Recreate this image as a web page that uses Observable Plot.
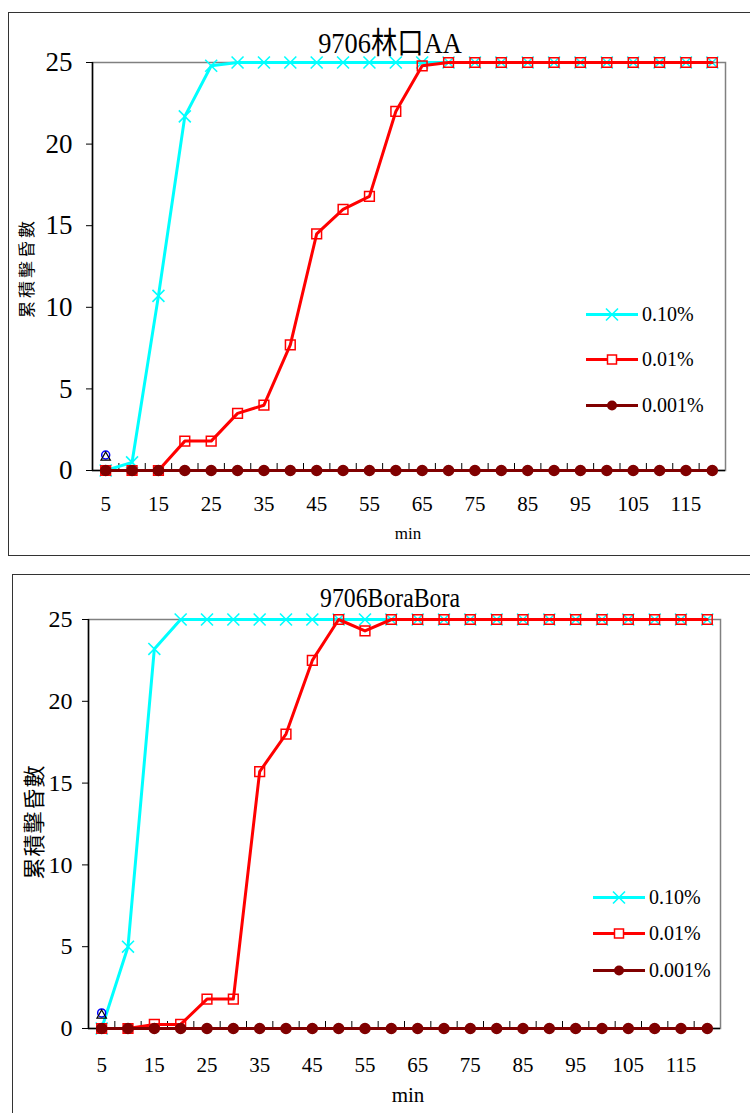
<!DOCTYPE html>
<html>
<head>
<meta charset="utf-8">
<script src="https://cdn.jsdelivr.net/npm/d3@7"></script>
<script src="https://cdn.jsdelivr.net/npm/@observablehq/plot@0.6"></script>
<style>
  html, body { margin: 0; padding: 0; background: #fff; }
  body { width: 750px; height: 1113px; position: relative; overflow: hidden;
         font-family: "Liberation Serif", "Noto Sans CJK TC", serif; color: #000; }
  svg, svg text { font-family: "Liberation Serif", "Noto Sans CJK TC", serif !important; }
  .abs { position: absolute; }
  .frame { position: absolute; border: 1.5px solid #333; box-sizing: border-box; }
  .title { position: absolute; white-space: nowrap; transform: translate(-50%, -50%) scaleX(0.88); }
  .ylab { position: absolute; white-space: nowrap; transform: translate(-50%, -50%) rotate(-90deg); }
  .xlab { position: absolute; white-space: nowrap; transform: translate(-50%, -50%); }
  .legrow { position: absolute; display: flex; align-items: center; white-space: nowrap; transform: translateY(-50%); }
</style>
</head>
<body>
<script>
// ---- data ----
const minutes = [5,10,15,20,25,30,35,40,45,50,55,60,65,70,75,80,85,90,95,100,105,110,115,120];
const xTickLabels = [5,15,25,35,45,55,65,75,85,95,105,115];
const yTicks = [0,5,10,15,20,25];
const seriesNames = ["0.10%", "0.01%", "0.001%"];
const seriesColors = ["#00FFFF", "#FF0000", "#800000"];

const titleA = "9706林口AA";
const aa010 = [0,0.5,10.7,21.7,24.8,25,25,25,25,25,25,25,25,25,25,25,25,25,25,25,25,25,25,25];
const aa001 = [0,0,0,1.8,1.8,3.5,4.0,7.7,14.5,16.0,16.8,22.0,24.8,25,25,25,25,25,25,25,25,25,25,25];
const aa0001 = [0,0,0,0,0,0,0,0,0,0,0,0,0,0,0,0,0,0,0,0,0,0,0,0];
const aaBlueCircle = [{x: 5, y: 0.95}];
const aaBlackTriangle = [{x: 5, y: 0.8}];

const titleB = "9706BoraBora";
const bb010 = [0,5.0,23.2,25,25,25,25,25,25,25,25,25,25,25,25,25,25,25,25,25,25,25,25,25];
const bb001 = [0,0,0.25,0.25,1.8,1.8,15.7,18.0,22.5,25,24.3,25,25,25,25,25,25,25,25,25,25,25,25,25];
const bb0001 = [0,0,0,0,0,0,0,0,0,0,0,0,0,0,0,0,0,0,0,0,0,0,0,0];
const bbBlueCircle = [{x: 5, y: 0.95}];
const bbBlackTriangle = [{x: 5, y: 0.8}];

const yLabel = "累積擊昏數";
const xLabel = "min";

// ---- helpers ----
const FONT = "'Liberation Serif', 'Noto Sans CJK TC', serif";
const boundaries = d3.range(minutes.length - 1).map(i => (minutes[i] + minutes[i + 1]) / 2);
const xDomain = [minutes[0] - 2.5, minutes[minutes.length - 1] + 2.5];

function rows(values) { return minutes.map((m, i) => ({x: m, y: values[i]})); }

function makePlot(cfg) {
  const [s1, s2, s3] = cfg.series.map(rows);
  return Plot.plot({
    width: 750,
    height: cfg.height,
    marginLeft: cfg.marginLeft,
    marginRight: cfg.marginRight,
    marginTop: cfg.marginTop,
    marginBottom: cfg.marginBottom,
    style: {fontFamily: FONT, background: "transparent", color: "#000", overflow: "visible"},
    x: {type: "linear", domain: xDomain},
    y: {domain: [0, 25]},
    marks: [
      Plot.frame({stroke: "#808080", strokeWidth: 1.5}),
      Plot.ruleY([0], {stroke: "#000", strokeWidth: 1.5}),
      Plot.axisX({ticks: boundaries, tickSize: -7, tickFormat: () => "", label: null, stroke: "#000"}),
      Plot.axisX({ticks: xTickLabels, tickSize: 0, tickPadding: cfg.xPad, fontSize: cfg.xFont, fontFamily: FONT, label: null}),
      Plot.ruleX([xDomain[0]], {stroke: "#000", strokeWidth: 1.5}),
      Plot.axisY({ticks: yTicks, tickSize: 6, tickPadding: cfg.yPad, fontSize: cfg.yFont, fontFamily: FONT, label: null, stroke: "#000"}),
      // 0.10%
      Plot.line(s1, {x: "x", y: "y", stroke: seriesColors[0], strokeWidth: 3}),
      Plot.dot(s1, {x: "x", y: "y", symbol: "times", r: 5.5, stroke: seriesColors[0], strokeWidth: 1.6}),
      // 0.01%
      Plot.line(s2, {x: "x", y: "y", stroke: seriesColors[1], strokeWidth: 3}),
      Plot.dot(s2, {x: "x", y: "y", symbol: "square", r: 5.5, stroke: seriesColors[1], fill: "none", strokeWidth: 1.5}),
      // 0.001%
      Plot.line(s3, {x: "x", y: "y", stroke: seriesColors[2], strokeWidth: 3}),
      Plot.dot(s3, {x: "x", y: "y", symbol: "circle", r: 5, fill: seriesColors[2], stroke: seriesColors[2]}),
      // stray markers at first point
      Plot.dot(cfg.circle, {x: "x", y: "y", symbol: "circle", r: 4, stroke: "#0000FF", fill: "none", strokeWidth: 1.5}),
      Plot.dot(cfg.triangle, {x: "x", y: "y", symbol: "triangle", r: 3.5, stroke: "#000", fill: "none", strokeWidth: 1.2})
    ]
  });
}

function legendSwatch(i) {
  const ns = "http://www.w3.org/2000/svg";
  const svg = document.createElementNS(ns, "svg");
  svg.setAttribute("width", 52); svg.setAttribute("height", 16);
  svg.style.display = "block";
  const line = document.createElementNS(ns, "line");
  line.setAttribute("x1", 0); line.setAttribute("x2", 52); line.setAttribute("y1", 8); line.setAttribute("y2", 8);
  line.setAttribute("stroke", seriesColors[i]); line.setAttribute("stroke-width", 3);
  svg.appendChild(line);
  let m;
  if (i === 0) {
    m = document.createElementNS(ns, "path");
    m.setAttribute("d", "M20,2L32,14M20,14L32,2");
    m.setAttribute("stroke", seriesColors[0]); m.setAttribute("stroke-width", 1.6); m.setAttribute("fill", "none");
  } else if (i === 1) {
    m = document.createElementNS(ns, "rect");
    m.setAttribute("x", 21.5); m.setAttribute("y", 3.5); m.setAttribute("width", 9); m.setAttribute("height", 9);
    m.setAttribute("stroke", seriesColors[1]); m.setAttribute("stroke-width", 1.5); m.setAttribute("fill", "white");
  } else {
    m = document.createElementNS(ns, "circle");
    m.setAttribute("cx", 26); m.setAttribute("cy", 8); m.setAttribute("r", 5);
    m.setAttribute("fill", seriesColors[2]);
  }
  svg.appendChild(m);
  return svg;
}

function addPanel(p) {
  const frame = document.createElement("div");
  frame.className = "frame";
  Object.assign(frame.style, {left: p.frame[0] + "px", top: p.frame[1] + "px", width: p.frame[2] + "px", height: p.frame[3] + "px"});
  document.body.appendChild(frame);

  const wrap = document.createElement("div");
  wrap.className = "abs";
  wrap.style.left = "0px"; wrap.style.top = p.top + "px";
  wrap.appendChild(makePlot(p));
  document.body.appendChild(wrap);

  const t = document.createElement("div");
  t.className = "title"; t.textContent = p.title;
  Object.assign(t.style, {left: p.titlePos[0] + "px", top: p.titlePos[1] + "px", fontSize: p.titleFont + "px"});
  document.body.appendChild(t);

  const yl = document.createElement("div");
  yl.className = "ylab"; yl.textContent = yLabel;
  Object.assign(yl.style, {left: p.yLabPos[0] + "px", top: p.yLabPos[1] + "px", fontSize: p.yLabFont + "px", letterSpacing: p.yLabSpacing + "px"});
  document.body.appendChild(yl);

  const xl = document.createElement("div");
  xl.className = "xlab"; xl.textContent = xLabel;
  Object.assign(xl.style, {left: p.xLabPos[0] + "px", top: p.xLabPos[1] + "px", fontSize: p.xLabFont + "px"});
  document.body.appendChild(xl);

  seriesNames.forEach((name, i) => {
    const row = document.createElement("div");
    row.className = "legrow";
    Object.assign(row.style, {left: p.legendX + "px", top: p.legendY[i] + "px", fontSize: p.legendFont + "px"});
    row.appendChild(legendSwatch(i));
    const s = document.createElement("span");
    s.textContent = name; s.style.marginLeft = "4px";
    row.appendChild(s);
    document.body.appendChild(row);
  });
}

addPanel({
  title: titleA, series: [aa010, aa001, aa0001], circle: aaBlueCircle, triangle: aaBlackTriangle,
  top: 0, height: 560, marginLeft: 92, marginRight: 25, marginTop: 62, marginBottom: 90,
  xPad: 26, xFont: 21, yPad: 14, yFont: 27,
  frame: [8, 12, 760, 544],
  titlePos: [390, 40], titleFont: 30,
  yLabPos: [25, 268], yLabFont: 17, yLabSpacing: 3,
  xLabPos: [408, 534], xLabFont: 17,
  legendX: 586, legendY: [314, 359, 405], legendFont: 20
});

addPanel({
  title: titleB, series: [bb010, bb001, bb0001], circle: bbBlueCircle, triangle: bbBlackTriangle,
  top: 560, height: 553, marginLeft: 88, marginRight: 30, marginTop: 59, marginBottom: 85,
  xPad: 29, xFont: 21, yPad: 10, yFont: 24,
  frame: [12, 574, 760, 560],
  titlePos: [390, 598], titleFont: 27,
  yLabPos: [32, 822], yLabFont: 22, yLabSpacing: 1,
  xLabPos: [408, 1095], xLabFont: 21,
  legendX: 593, legendY: [897, 933, 970], legendFont: 20
});
</script>
</body>
</html>
